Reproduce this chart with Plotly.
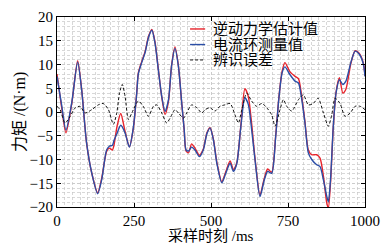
import plotly.graph_objects as go

# ---- data ----
t_main = [0, 15, 29, 48, 67, 80, 96, 113, 132, 145, 161, 170, 180, 185, 195, 207, 221, 235, 248,
          259, 264, 275, 286, 297, 308, 318, 329, 340, 351, 362, 372, 383, 394, 405, 413, 419, 427,
          437, 448, 462, 475, 487, 497, 508, 519, 535, 548, 562, 573, 584, 597, 610, 621, 632, 643,
          659, 673, 684, 697, 710, 720, 731, 740, 756, 773, 784, 794, 805, 816, 827, 843, 854, 865,
          876, 881, 888, 897, 906, 917, 928, 938, 954, 968, 982, 995, 1000]

measured = [7.5, 1.5, -3.8, 2.0, 10.5, 4.7, -6.5, -12.9, -17.2, -14.3, -8.0, -7.2, -7.0, -6.0, -4.5,
            -2.8, -4.4, -7.4, -3.2, 4.0, 8.0, 10.4, 12.5, 15.7, 17.2, 14.6, 8.9, 3.3, 0.1, 2.6, 9.7,
            13.4, 9.7, 1.9, -3.7, -8.0, -8.2, -7.4, -8.0, -9.4, -8.0, -4.5, -3.4, -5.9, -10.8, -14.9,
            -12.9, -10.8, -12.5, -10.8, -3.0, 3.0, 1.6, -3.7, -10.1, -17.8, -14.3, -12.5, -12.9, -5.2,
            2.6, 8.3, 9.5, 7.9, 6.5, 6.1, 2.9, -2.3, -8.6, -10.0, -11.1, -11.5, -14.3, -17.8, -18.9,
            -14.3, -3.0, 4.0, 6.8, 5.8, 6.5, 10.4, 12.8, 12.1, 10.0, 7.5]

estimated = [8.0, 1.0, -4.4, 1.8, 10.8, 4.8, -6.5, -12.9, -17.0, -14.0, -8.3, -7.6, -8.0, -7.0, -3.0,
             -0.3, -4.1, -7.3, -3.4, 4.2, 8.2, 10.6, 12.7, 15.9, 17.4, 14.8, 9.0, 3.2, -0.5, 2.3, 9.8,
             13.7, 9.8, 1.8, -3.8, -8.2, -8.6, -6.7, -7.6, -9.1, -7.8, -4.3, -3.3, -5.8, -10.6, -14.7,
             -12.6, -10.3, -12.2, -10.6, -2.8, 4.9, 3.3, -2.5, -9.8, -17.5, -14.0, -12.0, -12.7, -5.0,
             2.8, 8.6, 10.4, 8.5, 7.5, 7.0, 3.5, -2.0, -8.0, -9.0, -9.0, -9.7, -13.5, -19.2, -20.2,
             -15.0, -3.2, 4.2, 7.2, 4.0, 4.8, 10.2, 12.9, 12.3, 10.2, 7.6]

t_err = [0, 10, 26, 42, 58, 75, 91, 113, 134, 150, 167, 183, 194, 203, 212, 221, 232, 243, 264, 280,
         297, 313, 324, 340, 356, 367, 383, 394, 411, 421, 437, 454, 470, 481, 497, 513, 529, 545,
         562, 578, 589, 600, 616, 632, 648, 665, 681, 697, 708, 724, 735, 746, 762, 784, 800, 816,
         832, 848, 865, 881, 892, 903, 919, 935, 952, 968, 984, 1000]

error = [1.2, 0.5, -2.3, -1.0, 0.8, 1.2, -0.2, 0.5, 1.5, 1.8, 0.5, -2.6, -0.2, 4.0, 5.8, 3.3, -1.6,
         -0.2, 2.3, 1.2, -0.9, 1.2, 1.5, -0.2, -2.3, -1.3, 0.5, -0.2, -1.3, -0.2, 1.5, 0.9, -0.2, 0.5,
         0.9, 0.2, 1.2, 1.5, 1.8, -0.6, -2.3, 0.5, 4.0, 2.3, 1.2, 1.8, 0.9, -0.6, -3.0, 0.5, 2.6, 1.2,
         0.2, 2.6, 3.6, 1.5, 1.8, 2.9, -0.2, -3.0, -0.6, 2.9, 1.8, -0.9, -0.2, 1.2, 1.2, 0.5]

x_ticks = [0, 250, 500, 750, 1000]
y_ticks = [-20, -15, -10, -5, 0, 5, 10, 15, 20]
names = ["逆动力学估计值", "电流环测量值", "辨识误差"]
x_title = "采样时刻 /ms"
y_title = "力矩 /(N·m)"

SERIF = "Liberation Serif, Times New Roman, Noto Sans CJK SC, serif"
colors = ["#e8232b", "#2b4ea6", "#111111"]
dashes = ["solid", "solid", "3px,2px"]
widths = [1.4, 1.4, 1.0]

fig = go.Figure()
series = [(t_main, estimated), (t_main, measured), (t_err, error)]
for (xs, ys), nm, c, d, w in zip(series, names, colors, dashes, widths):
    fig.add_trace(go.Scatter(x=xs, y=ys, mode="lines", name=nm, showlegend=False,
                             line=dict(color=c, width=w, dash=d, shape="spline", smoothing=0.7)))

# custom compact legend (text + short line sample), placed in paper coordinates
leg_x0, leg_x1, leg_tx = 0.432, 0.481, 0.503
leg_y = [0.937, 0.855, 0.774]
for nm, c, d, w, yy in zip(names, colors, dashes, widths, leg_y):
    fig.add_shape(type="line", xref="paper", yref="paper", x0=leg_x0, x1=leg_x1, y0=yy, y1=yy,
                  line=dict(color=c, width=w, dash=d))
    fig.add_annotation(xref="paper", yref="paper", x=leg_tx, y=yy, text=nm, showarrow=False,
                       xanchor="left", yanchor="middle", borderpad=0,
                       font=dict(family=SERIF, size=15, color="black"))

GRID = dict(gridcolor="#c8c8c8", griddash="3px,2px", gridwidth=0.7)
axis_common = dict(
    showline=True, linecolor="black", linewidth=1, mirror="ticks",
    ticks="inside", ticklen=4, tickcolor="black",
    tickfont=dict(family=SERIF, size=15, color="black"),
    showgrid=True, zeroline=False, automargin=False,
    **GRID,
)

fig.update_xaxes(range=[0, 1000], tickvals=x_ticks,
                 minor=dict(dtick=25, showgrid=True, ticks="", **GRID),
                 **axis_common)
fig.update_yaxes(range=[-20, 20], tickvals=y_ticks,
                 minor=dict(dtick=1, showgrid=True, ticks="", **GRID),
                 **axis_common)

# axis titles
fig.add_annotation(xref="paper", yref="paper", x=0.5, y=-0.153, text=x_title, showarrow=False,
                   xanchor="center", yanchor="middle", borderpad=0,
                   font=dict(family=SERIF, size=15, color="black"))
fig.add_annotation(xref="paper", yref="paper", x=-0.12, y=0.5, text=y_title, showarrow=False,
                   textangle=-90, xanchor="center", yanchor="middle",
                   font=dict(family=SERIF, size=16, color="black"))

fig.update_layout(
    width=387, height=246,
    margin=dict(l=57, r=22, t=17, b=39),
    paper_bgcolor="white", plot_bgcolor="white",
    showlegend=False,
)

fig.write_html("out.html", config={"displayModeBar": False, "staticPlot": True},
               post_script="document.body.style.margin='0';document.body.style.overflow='hidden';")
